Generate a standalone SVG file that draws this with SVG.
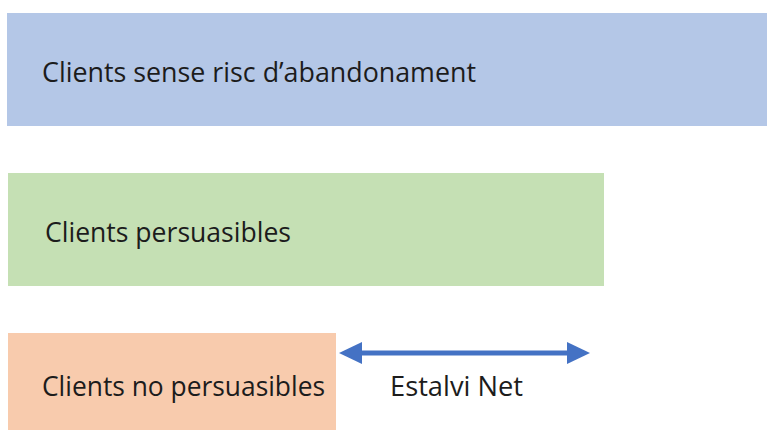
<svg xmlns="http://www.w3.org/2000/svg" width="767" height="430" viewBox="0 0 767 430">
<style>
.lbl{font-family:"Open Sans","Noto Sans","Liberation Sans",sans-serif;font-size:28px;fill:#1c1c1c}
</style>
<defs>
<marker id="ah" markerUnits="userSpaceOnUse" markerWidth="23" markerHeight="22" viewBox="0 0 23 22" refX="17" refY="11" orient="auto-start-reverse">
<path d="M0,0 L23,11 L0,22 z" fill="#4472c4"/>
</marker>
</defs>
<rect width="767" height="430" fill="#ffffff"/>
<g id="node-sense-risc">
<rect x="7" y="13" width="760" height="113" fill="#b4c7e7"/>
<text class="lbl" x="42" y="82" textLength="434" lengthAdjust="spacingAndGlyphs">Clients sense risc d’abandonament</text>
</g>
<g id="node-persuasibles">
<rect x="8" y="173" width="596" height="113" fill="#c5e0b4"/>
<text class="lbl" x="45" y="242" textLength="246" lengthAdjust="spacingAndGlyphs">Clients persuasibles</text>
</g>
<g id="node-no-persuasibles">
<rect x="8" y="333" width="328" height="97" fill="#f8cbad"/>
<text class="lbl" x="42" y="396" textLength="283" lengthAdjust="spacingAndGlyphs">Clients no persuasibles</text>
</g>
<g id="connectors">
<line x1="345" y1="353" x2="584" y2="353" stroke="#4472c4" stroke-width="5" marker-start="url(#ah)" marker-end="url(#ah)"/>
</g>
<g id="label-estalvi">
<text class="lbl" x="390" y="396" textLength="133" lengthAdjust="spacingAndGlyphs">Estalvi Net</text>
</g>
</svg>
